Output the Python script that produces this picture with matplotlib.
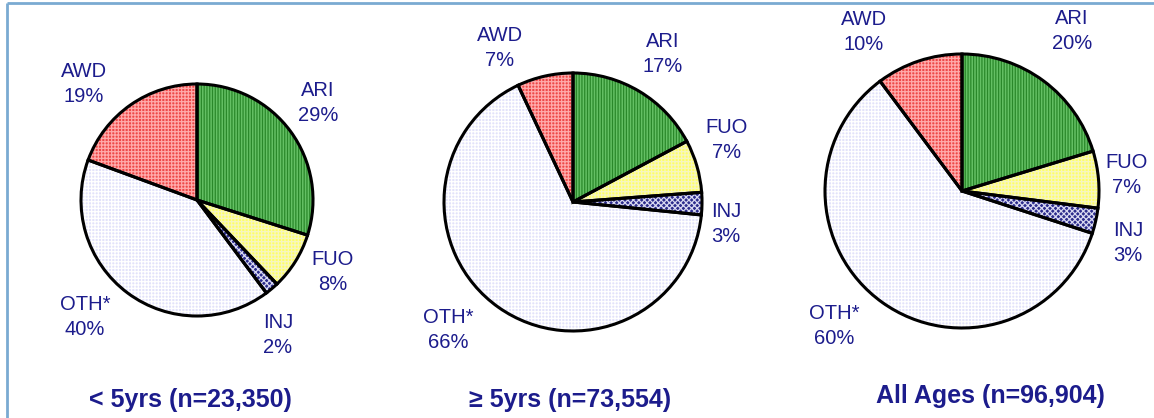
import matplotlib
matplotlib.use("Agg")
import matplotlib.pyplot as plt

# data
categories = ["ARI", "FUO", "INJ", "OTH*", "AWD"]
titles = ["< 5yrs (n=23,350)", "\u2265 5yrs (n=73,554)", "All Ages (n=96,904)"]
# shares
shares_u5 = [29.9, 8.0, 1.9, 40.8, 19.4]
shares_o5 = [17.2, 6.6, 2.8, 66.4, 7.0]
shares_all = [20.3, 6.7, 3.0, 59.8, 10.2]
# percentages as printed
pct_u5 = [29, 8, 2, 40, 19]
pct_o5 = [17, 7, 3, 66, 7]
pct_all = [20, 7, 3, 60, 10]

W, H = 1154, 418
NAVY = "#1c1c8c"

face = ["#64c064", "#ffff66", "#2c2c8c", "#e2e2fa", "#ee4848"]
hatch_col = ["#2a882a", "#f6f6c0", "#d8d8f0", "#ffffff", "#ffaaaa"]
hatches = ["||||||", "+++++", "xxxxxx", "+++++", "+++++"]

# layout (pixel coords, y from top)
pies = [
    dict(cx=197, cy=200, r=116, shares=shares_u5, pct=pct_u5,
         lab=[(318, 103), (333, 272), (278, 335), (85, 317), (84, 84)],
         title=(190, 400)),
    dict(cx=573, cy=202, r=129, shares=shares_o5, pct=pct_o5,
         lab=[(663, 54), (727, 140), (726, 224), (448, 330), (500, 48)],
         title=(570, 400)),
    dict(cx=962, cy=191, r=137, shares=shares_all, pct=pct_all,
         lab=[(1072, 31), (1127, 175), (1128, 243), (834, 326), (864, 32)],
         title=(990, 396)),
]

plt.rcParams["hatch.linewidth"] = 0.9
fig = plt.figure(figsize=(W / 100, H / 100), dpi=100)
ax = fig.add_axes([0, 0, 1, 1])

for i, p in enumerate(pies):
    center = (p["cx"], H - p["cy"])
    wedges, _ = ax.pie(p["shares"], radius=p["r"], center=center,
                       startangle=90, counterclock=False, frame=True,
                       colors=face, wedgeprops=dict(linewidth=0))
    for w, hc, hh in zip(wedges, hatch_col, hatches):
        w.set_hatch(hh)
        w.set_edgecolor(hc)
        w.set_linewidth(0)
    ax.pie(p["shares"], radius=p["r"], center=center, startangle=90,
           counterclock=False, frame=True,
           wedgeprops=dict(facecolor="none", edgecolor="black", linewidth=2.2))
    for (lx, ly), name, v in zip(p["lab"], categories, p["pct"]):
        ax.text(lx, H - ly, f"{name}\n{v}%", ha="center", va="center",
                color=NAVY, fontsize=14.5, linespacing=1.4,
                family=["Liberation Sans", "DejaVu Sans"])
    tx, ty = p["title"]
    ax.text(tx, H - ty, titles[i], ha="center", va="center", color=NAVY,
            fontsize=18, fontweight="bold",
            family=["Liberation Sans", "DejaVu Sans"])

# light blue frame lines (left and top)
ax.plot([7, 7], [0, H - 3], color="#7aaad2", lw=2, solid_capstyle="butt")
ax.plot([7, W], [H - 3, H - 3], color="#7aaad2", lw=2, solid_capstyle="butt")

ax.set_xlim(0, W)
ax.set_ylim(0, H)
ax.set_aspect("auto")
ax.axis("off")

fig.savefig("out.png", dpi=100, facecolor="white")
